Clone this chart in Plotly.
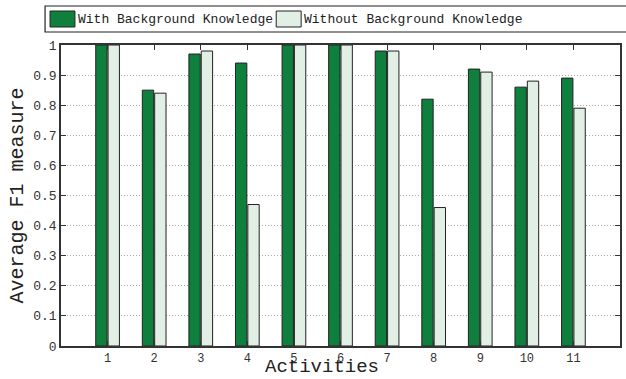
import plotly.graph_objects as go

# Average F1 per activity, with and without background knowledge
activities = ["1", "2", "3", "4", "5", "6", "7", "8", "9", "10", "11"]
with_bk = [1.00, 0.85, 0.97, 0.94, 1.00, 1.00, 0.98, 0.82, 0.92, 0.86, 0.89]
without_bk = [1.00, 0.84, 0.98, 0.47, 1.00, 1.00, 0.98, 0.46, 0.91, 0.88, 0.79]
y_ticks = [0, 0.1, 0.2, 0.3, 0.4, 0.5, 0.6, 0.7, 0.8, 0.9, 1]
y_tick_text = ["0", "0.1", "0.2", "0.3", "0.4", "0.5", "0.6", "0.7", "0.8", "0.9", "1"]
series_names = ["With Background Knowledge", "Without Background Knowledge"]

GREEN = "#0f7f3e"
LIGHT = "#e2efe5"
EDGE = "#222222"
FONT = "Liberation Mono, Courier New, monospace"

x_pos = list(range(1, len(activities) + 1))

fig = go.Figure()
fig.add_trace(go.Bar(x=x_pos, y=with_bk, name=series_names[0],
                     marker=dict(color=GREEN, line=dict(color=EDGE, width=1))))
fig.add_trace(go.Bar(x=x_pos, y=without_bk, name=series_names[1],
                     marker=dict(color=LIGHT, line=dict(color=EDGE, width=1))))

# plot area geometry (pixels) used to place the legend box
W, H = 626, 379
L, R, T, B = 61, 4, 45, 33
pw, ph = W - L - R, H - T - B

def px(x):
    return (x - L) / pw

def py(y):
    return (H - B - y) / ph

shapes = [
    dict(type="rect", xref="paper", yref="paper", x0=px(45), x1=px(640),
         y0=py(32), y1=py(6), line=dict(color="#222", width=1.2), fillcolor="white"),
    dict(type="rect", xref="paper", yref="paper", x0=px(50), x1=px(75),
         y0=py(27), y1=py(11), line=dict(color=EDGE, width=1), fillcolor=GREEN),
    dict(type="rect", xref="paper", yref="paper", x0=px(277), x1=px(302),
         y0=py(27), y1=py(11), line=dict(color=EDGE, width=1), fillcolor=LIGHT),
]

annotations = [
    dict(text=series_names[0], xref="paper", yref="paper", x=px(76), y=py(19),
         xanchor="left", yanchor="middle", showarrow=False,
         font=dict(family=FONT, size=13, color="#222")),
    dict(text=series_names[1], xref="paper", yref="paper", x=px(303), y=py(19),
         xanchor="left", yanchor="middle", showarrow=False,
         font=dict(family=FONT, size=13, color="#222")),
    dict(text="Activities", xref="paper", yref="paper", x=px(323), y=py(379),
         xanchor="center", yanchor="bottom", showarrow=False, borderpad=0,
         font=dict(family=FONT, size=19, color="#222")),
]

fig.update_layout(
    width=W, height=H,
    margin=dict(l=L, r=R, t=T, b=B, pad=0),
    paper_bgcolor="white", plot_bgcolor="white",
    barmode="group", bargap=0.47, bargroupgap=0.08,
    showlegend=False,
    font=dict(family=FONT, size=13, color="#222"),
    shapes=shapes, annotations=annotations,
)

fig.update_xaxes(
    range=[0, 12], tickmode="array", tickvals=x_pos, ticktext=activities,
    ticks="inside", ticklen=5, tickcolor="#333",
    showline=True, linecolor="#333", linewidth=1.5, mirror="ticks",
    showgrid=False, zeroline=False,
    tickfont=dict(family=FONT, size=12, color="#333"),
)
fig.update_yaxes(
    range=[0, 1], tickmode="array", tickvals=y_ticks, ticktext=y_tick_text,
    ticks="inside", ticklen=5, tickcolor="#333",
    showline=True, linecolor="#333", linewidth=1.5, mirror="ticks",
    showgrid=True, gridcolor="#a8a8a8", griddash="1px,2px", gridwidth=1,
    zeroline=False,
    tickfont=dict(family=FONT, size=13, color="#333"),
    title=dict(text="Average F1 measure", standoff=4,
               font=dict(family=FONT, size=20, color="#222")),
)

fig.write_html("out.html")
